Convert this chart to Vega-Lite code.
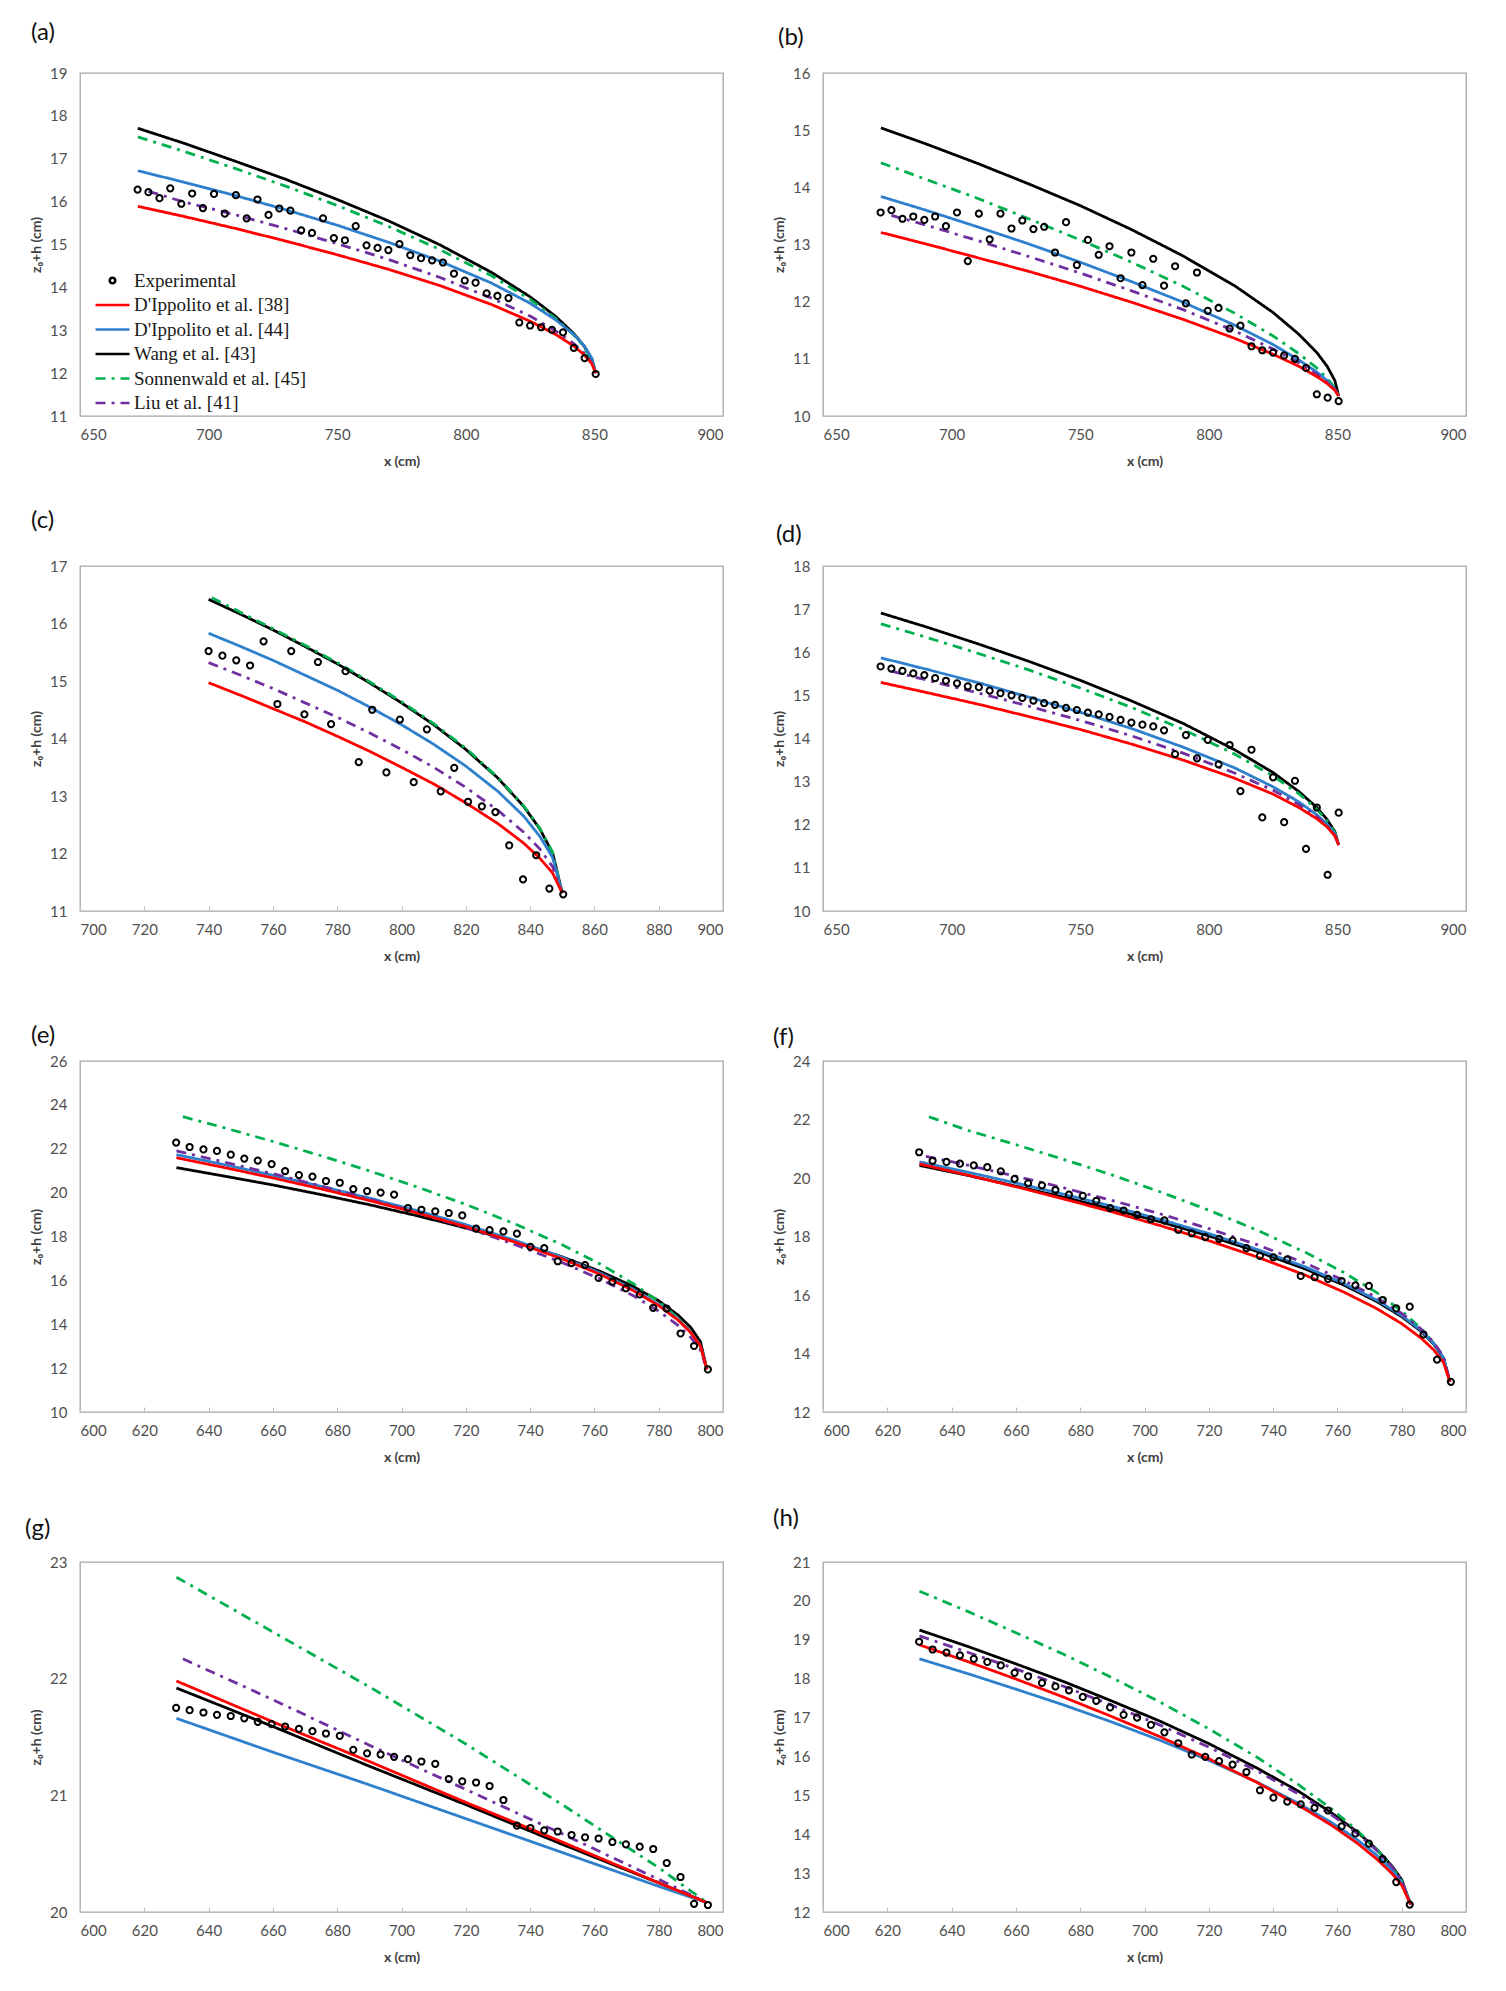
{
"$schema": "https://vega.github.io/schema/vega-lite/v6.json",
"background": "white",
"padding": {"left": 24, "top": 20, "right": 10, "bottom": 10},
"columns": 2,
"spacing": {"row": 150, "column": 100},
"bounds": "flush",
"resolve": {"scale": {"color": "independent", "strokeDash": "independent", "shape": "independent"}, "legend": {"color": "independent", "strokeDash": "independent", "shape": "independent"}},
"config": {
  "font": "Lato",
  "view": {"stroke": "#a6a6a6", "strokeWidth": 1.3},
  "axis": {"grid": false, "domain": false, "ticks": false, "format": "d", "labelOverlap": false, "labelBound": false, "labelFont": "Lato", "labelFontSize": 15, "labelColor": "#505050", "titleFont": "Lato", "titleFontSize": 14, "titleFontWeight": "bold", "titleColor": "#404040", "tickColor": "#bfbfbf", "tickWidth": 1},
  "axisX": {"labelPadding": 11, "titlePadding": 12},
  "axisY": {"labelPadding": 13, "titlePadding": 6},
  "title": {"font": "Lato", "fontSize": 24, "fontWeight": "normal", "anchor": "start", "color": "#111111", "baseline": "middle", "frame": "group"}
},
"datasets": {
"ca": [
{"s":"43","x":672.5,"y":17.71},{"s":"43","x":690,"y":17.37},{"s":"43","x":710,"y":16.95},{"s":"43","x":730,"y":16.52},{"s":"43","x":750,"y":16.05},{"s":"43","x":770,"y":15.55},{"s":"43","x":790,"y":14.99},{"s":"43","x":810,"y":14.35},{"s":"43","x":825,"y":13.78},{"s":"43","x":835,"y":13.32},{"s":"43","x":842,"y":12.92},{"s":"43","x":846,"y":12.63},{"s":"43","x":849,"y":12.32},{"s":"43","x":850.5,"y":12.0},
{"s":"45","x":672.5,"y":17.51},{"s":"45","x":690,"y":17.18},{"s":"45","x":710,"y":16.78},{"s":"45","x":730,"y":16.36},{"s":"45","x":750,"y":15.91},{"s":"45","x":770,"y":15.42},{"s":"45","x":790,"y":14.88},{"s":"45","x":810,"y":14.27},{"s":"45","x":825,"y":13.72},{"s":"45","x":835,"y":13.27},{"s":"45","x":842,"y":12.89},{"s":"45","x":846,"y":12.61},{"s":"45","x":849,"y":12.31},{"s":"45","x":850.5,"y":12.0},
{"s":"44","x":672.5,"y":16.72},{"s":"44","x":690,"y":16.46},{"s":"44","x":710,"y":16.15},{"s":"44","x":730,"y":15.81},{"s":"44","x":750,"y":15.45},{"s":"44","x":770,"y":15.05},{"s":"44","x":790,"y":14.61},{"s":"44","x":810,"y":14.10},{"s":"44","x":825,"y":13.63},{"s":"44","x":835,"y":13.24},{"s":"44","x":842,"y":12.90},{"s":"44","x":846,"y":12.64},{"s":"44","x":849,"y":12.35},{"s":"44","x":850.5,"y":12.0},
{"s":"41","x":676.6,"y":16.24},{"s":"41","x":690,"y":16.0},{"s":"41","x":710,"y":15.70},{"s":"41","x":730,"y":15.37},{"s":"41","x":750,"y":15.02},{"s":"41","x":770,"y":14.65},{"s":"41","x":790,"y":14.23},{"s":"41","x":810,"y":13.75},{"s":"41","x":825,"y":13.33},{"s":"41","x":835,"y":12.98},{"s":"41","x":842,"y":12.69},{"s":"41","x":846,"y":12.47},{"s":"41","x":849,"y":12.24},{"s":"41","x":850.5,"y":12.0},
{"s":"38","x":672.5,"y":15.89},{"s":"38","x":690,"y":15.66},{"s":"38","x":710,"y":15.38},{"s":"38","x":730,"y":15.08},{"s":"38","x":750,"y":14.76},{"s":"38","x":770,"y":14.42},{"s":"38","x":790,"y":14.04},{"s":"38","x":810,"y":13.60},{"s":"38","x":825,"y":13.21},{"s":"38","x":835,"y":12.90},{"s":"38","x":842,"y":12.63},{"s":"38","x":846,"y":12.43},{"s":"38","x":849,"y":12.22},{"s":"38","x":850.5,"y":12.0}
],
"ea": [
{"s":"exp","x":672.4,"y":16.28},{"s":"exp","x":676.6,"y":16.22},{"s":"exp","x":680.9,"y":16.08},{"s":"exp","x":685.1,"y":16.31},{"s":"exp","x":689.4,"y":15.95},{"s":"exp","x":693.6,"y":16.19},{"s":"exp","x":697.8,"y":15.85},{"s":"exp","x":702.1,"y":16.18},{"s":"exp","x":706.3,"y":15.72},{"s":"exp","x":710.6,"y":16.15},{"s":"exp","x":714.8,"y":15.61},{"s":"exp","x":719.0,"y":16.05},{"s":"exp","x":723.3,"y":15.69},{"s":"exp","x":727.5,"y":15.84},{"s":"exp","x":731.8,"y":15.79},{"s":"exp","x":736.0,"y":15.33},{"s":"exp","x":740.2,"y":15.27},{"s":"exp","x":744.5,"y":15.61},{"s":"exp","x":748.7,"y":15.15},{"s":"exp","x":753.0,"y":15.10},{"s":"exp","x":757.2,"y":15.43},{"s":"exp","x":761.4,"y":14.98},{"s":"exp","x":765.7,"y":14.92},{"s":"exp","x":769.9,"y":14.87},{"s":"exp","x":774.2,"y":15.01},{"s":"exp","x":778.4,"y":14.75},{"s":"exp","x":782.6,"y":14.68},{"s":"exp","x":786.9,"y":14.63},{"s":"exp","x":791.1,"y":14.58},{"s":"exp","x":795.4,"y":14.32},{"s":"exp","x":799.6,"y":14.16},{"s":"exp","x":803.8,"y":14.11},{"s":"exp","x":808.1,"y":13.86},{"s":"exp","x":812.3,"y":13.80},{"s":"exp","x":816.6,"y":13.75},{"s":"exp","x":820.8,"y":13.18},{"s":"exp","x":825.0,"y":13.11},{"s":"exp","x":829.3,"y":13.07},{"s":"exp","x":833.5,"y":13.01},{"s":"exp","x":837.8,"y":12.95},{"s":"exp","x":842.0,"y":12.59},{"s":"exp","x":846.2,"y":12.35},{"s":"exp","x":850.5,"y":11.98}
],
"cb": [
{"s":"43","x":672.5,"y":15.04},{"s":"43","x":690,"y":14.76},{"s":"43","x":710,"y":14.42},{"s":"43","x":730,"y":14.06},{"s":"43","x":750,"y":13.68},{"s":"43","x":770,"y":13.26},{"s":"43","x":790,"y":12.80},{"s":"43","x":810,"y":12.28},{"s":"43","x":825,"y":11.81},{"s":"43","x":835,"y":11.43},{"s":"43","x":842,"y":11.11},{"s":"43","x":846,"y":10.87},{"s":"43","x":849,"y":10.62},{"s":"43","x":850.5,"y":10.35},
{"s":"45","x":672.5,"y":14.43},{"s":"45","x":690,"y":14.14},{"s":"45","x":710,"y":13.81},{"s":"45","x":730,"y":13.45},{"s":"45","x":750,"y":13.08},{"s":"45","x":770,"y":12.69},{"s":"45","x":790,"y":12.27},{"s":"45","x":810,"y":11.80},{"s":"45","x":825,"y":11.40},{"s":"45","x":835,"y":11.09},{"s":"45","x":842,"y":10.84},{"s":"45","x":846,"y":10.66},{"s":"45","x":849,"y":10.49},{"s":"45","x":850.5,"y":10.35},
{"s":"44","x":672.5,"y":13.84},{"s":"44","x":690,"y":13.60},{"s":"44","x":710,"y":13.31},{"s":"44","x":730,"y":13.01},{"s":"44","x":750,"y":12.69},{"s":"44","x":770,"y":12.35},{"s":"44","x":790,"y":11.99},{"s":"44","x":810,"y":11.59},{"s":"44","x":825,"y":11.25},{"s":"44","x":835,"y":10.98},{"s":"44","x":842,"y":10.77},{"s":"44","x":846,"y":10.62},{"s":"44","x":849,"y":10.47},{"s":"44","x":850.5,"y":10.35},
{"s":"41","x":676.6,"y":13.51},{"s":"41","x":690,"y":13.34},{"s":"41","x":710,"y":13.07},{"s":"41","x":730,"y":12.79},{"s":"41","x":750,"y":12.50},{"s":"41","x":770,"y":12.19},{"s":"41","x":790,"y":11.86},{"s":"41","x":810,"y":11.49},{"s":"41","x":825,"y":11.17},{"s":"41","x":835,"y":10.93},{"s":"41","x":842,"y":10.73},{"s":"41","x":846,"y":10.59},{"s":"41","x":849,"y":10.46},{"s":"41","x":850.5,"y":10.35},
{"s":"38","x":672.5,"y":13.21},{"s":"38","x":690,"y":13.01},{"s":"38","x":710,"y":12.77},{"s":"38","x":730,"y":12.53},{"s":"38","x":750,"y":12.27},{"s":"38","x":770,"y":11.99},{"s":"38","x":790,"y":11.69},{"s":"38","x":810,"y":11.36},{"s":"38","x":825,"y":11.08},{"s":"38","x":835,"y":10.87},{"s":"38","x":842,"y":10.69},{"s":"38","x":846,"y":10.57},{"s":"38","x":849,"y":10.45},{"s":"38","x":850.5,"y":10.35}
],
"eb": [
{"x":672.4,"y":13.56},{"x":676.6,"y":13.60},{"x":680.9,"y":13.45},{"x":685.1,"y":13.49},{"x":689.4,"y":13.43},{"x":693.6,"y":13.49},{"x":697.8,"y":13.32},{"x":702.1,"y":13.56},{"x":706.3,"y":12.71},{"x":710.6,"y":13.54},{"x":714.8,"y":13.09},{"x":719.0,"y":13.54},{"x":723.3,"y":13.28},{"x":727.5,"y":13.42},{"x":731.8,"y":13.27},{"x":736.0,"y":13.31},{"x":740.2,"y":12.86},{"x":744.5,"y":13.39},{"x":748.7,"y":12.64},{"x":753.0,"y":13.08},{"x":757.2,"y":12.82},{"x":761.4,"y":12.97},{"x":765.7,"y":12.41},{"x":769.9,"y":12.86},{"x":774.2,"y":12.29},{"x":778.4,"y":12.75},{"x":782.6,"y":12.28},{"x":786.9,"y":12.62},{"x":791.1,"y":11.97},{"x":795.4,"y":12.51},{"x":799.6,"y":11.84},{"x":803.8,"y":11.89},{"x":808.1,"y":11.53},{"x":812.3,"y":11.58},{"x":816.6,"y":11.22},{"x":820.8,"y":11.15},{"x":825.0,"y":11.11},{"x":829.3,"y":11.06},{"x":833.5,"y":11.00},{"x":837.8,"y":10.84},{"x":842.0,"y":10.38},{"x":846.2,"y":10.32},{"x":850.5,"y":10.26}
],
"cc": [
{"s":"43","x":740,"y":16.42},{"s":"43","x":750,"y":16.16},{"s":"43","x":760,"y":15.89},{"s":"43","x":770,"y":15.60},{"s":"43","x":780,"y":15.30},{"s":"43","x":790,"y":14.97},{"s":"43","x":800,"y":14.62},{"s":"43","x":810,"y":14.24},{"s":"43","x":820,"y":13.81},{"s":"43","x":830,"y":13.31},{"s":"43","x":838,"y":12.82},{"s":"43","x":843,"y":12.43},{"s":"43","x":847,"y":12.01},{"s":"43","x":850,"y":11.31},
{"s":"45","x":741,"y":16.45},{"s":"45","x":750,"y":16.19},{"s":"45","x":760,"y":15.91},{"s":"45","x":770,"y":15.62},{"s":"45","x":780,"y":15.32},{"s":"45","x":790,"y":14.99},{"s":"45","x":800,"y":14.64},{"s":"45","x":810,"y":14.26},{"s":"45","x":820,"y":13.83},{"s":"45","x":830,"y":13.32},{"s":"45","x":838,"y":12.83},{"s":"45","x":843,"y":12.44},{"s":"45","x":847,"y":12.02},{"s":"45","x":850,"y":11.31},
{"s":"44","x":740,"y":15.83},{"s":"44","x":750,"y":15.60},{"s":"44","x":760,"y":15.36},{"s":"44","x":770,"y":15.10},{"s":"44","x":780,"y":14.84},{"s":"44","x":790,"y":14.55},{"s":"44","x":800,"y":14.24},{"s":"44","x":810,"y":13.90},{"s":"44","x":820,"y":13.52},{"s":"44","x":830,"y":13.08},{"s":"44","x":838,"y":12.65},{"s":"44","x":843,"y":12.30},{"s":"44","x":847,"y":11.93},{"s":"44","x":850,"y":11.31},
{"s":"41","x":740,"y":15.32},{"s":"41","x":750,"y":15.10},{"s":"41","x":760,"y":14.87},{"s":"41","x":770,"y":14.62},{"s":"41","x":780,"y":14.37},{"s":"41","x":790,"y":14.10},{"s":"41","x":800,"y":13.81},{"s":"41","x":810,"y":13.50},{"s":"41","x":820,"y":13.15},{"s":"41","x":830,"y":12.75},{"s":"41","x":838,"y":12.37},{"s":"41","x":843,"y":12.08},{"s":"41","x":847,"y":11.77},{"s":"41","x":850,"y":11.31},
{"s":"38","x":740,"y":14.97},{"s":"38","x":750,"y":14.75},{"s":"38","x":760,"y":14.52},{"s":"38","x":770,"y":14.29},{"s":"38","x":780,"y":14.04},{"s":"38","x":790,"y":13.78},{"s":"38","x":800,"y":13.50},{"s":"38","x":810,"y":13.21},{"s":"38","x":820,"y":12.88},{"s":"38","x":830,"y":12.52},{"s":"38","x":838,"y":12.18},{"s":"38","x":843,"y":11.92},{"s":"38","x":847,"y":11.66},{"s":"38","x":850,"y":11.31}
],
"ec": [
{"x":740.0,"y":15.52},{"x":744.3,"y":15.44},{"x":748.6,"y":15.36},{"x":752.9,"y":15.27},{"x":757.1,"y":15.69},{"x":761.4,"y":14.60},{"x":765.7,"y":15.52},{"x":769.8,"y":14.42},{"x":774.0,"y":15.33},{"x":778.1,"y":14.25},{"x":782.6,"y":15.17},{"x":786.7,"y":13.59},{"x":790.9,"y":14.50},{"x":795.3,"y":13.41},{"x":799.5,"y":14.33},{"x":803.8,"y":13.24},{"x":807.9,"y":14.16},{"x":812.2,"y":13.08},{"x":816.4,"y":13.49},{"x":820.7,"y":12.90},{"x":825.0,"y":12.82},{"x":829.2,"y":12.72},{"x":833.5,"y":12.14},{"x":837.8,"y":11.55},{"x":841.9,"y":11.97},{"x":846.0,"y":11.39},{"x":850.3,"y":11.29}
],
"cd": [
{"s":"43","x":672.5,"y":16.91},{"s":"43","x":690,"y":16.59},{"s":"43","x":710,"y":16.20},{"s":"43","x":730,"y":15.79},{"s":"43","x":750,"y":15.35},{"s":"43","x":770,"y":14.87},{"s":"43","x":790,"y":14.35},{"s":"43","x":810,"y":13.74},{"s":"43","x":825,"y":13.21},{"s":"43","x":835,"y":12.77},{"s":"43","x":842,"y":12.40},{"s":"43","x":846,"y":12.12},{"s":"43","x":849,"y":11.84},{"s":"43","x":850.5,"y":11.53},
{"s":"45","x":672.5,"y":16.66},{"s":"45","x":690,"y":16.35},{"s":"45","x":710,"y":15.98},{"s":"45","x":730,"y":15.59},{"s":"45","x":750,"y":15.17},{"s":"45","x":770,"y":14.72},{"s":"45","x":790,"y":14.21},{"s":"45","x":810,"y":13.64},{"s":"45","x":825,"y":13.13},{"s":"45","x":835,"y":12.72},{"s":"45","x":842,"y":12.36},{"s":"45","x":846,"y":12.09},{"s":"45","x":849,"y":11.82},{"s":"45","x":850.5,"y":11.53},
{"s":"44","x":672.5,"y":15.87},{"s":"44","x":690,"y":15.61},{"s":"44","x":710,"y":15.30},{"s":"44","x":730,"y":14.96},{"s":"44","x":750,"y":14.61},{"s":"44","x":770,"y":14.23},{"s":"44","x":790,"y":13.80},{"s":"44","x":810,"y":13.32},{"s":"44","x":825,"y":12.88},{"s":"44","x":835,"y":12.53},{"s":"44","x":842,"y":12.23},{"s":"44","x":846,"y":12.01},{"s":"44","x":849,"y":11.78},{"s":"44","x":850.5,"y":11.53},
{"s":"41","x":676.6,"y":15.56},{"s":"41","x":690,"y":15.36},{"s":"41","x":710,"y":15.06},{"s":"41","x":730,"y":14.75},{"s":"41","x":750,"y":14.42},{"s":"41","x":770,"y":14.06},{"s":"41","x":790,"y":13.66},{"s":"41","x":810,"y":13.20},{"s":"41","x":825,"y":12.80},{"s":"41","x":835,"y":12.47},{"s":"41","x":842,"y":12.19},{"s":"41","x":846,"y":11.98},{"s":"41","x":849,"y":11.76},{"s":"41","x":850.5,"y":11.53},
{"s":"38","x":672.5,"y":15.30},{"s":"38","x":690,"y":15.07},{"s":"38","x":710,"y":14.80},{"s":"38","x":730,"y":14.51},{"s":"38","x":750,"y":14.21},{"s":"38","x":770,"y":13.87},{"s":"38","x":790,"y":13.50},{"s":"38","x":810,"y":13.08},{"s":"38","x":825,"y":12.71},{"s":"38","x":835,"y":12.40},{"s":"38","x":842,"y":12.14},{"s":"38","x":846,"y":11.95},{"s":"38","x":849,"y":11.74},{"s":"38","x":850.5,"y":11.53}
],
"ed": [
{"x":672.4,"y":15.67},{"x":676.6,"y":15.62},{"x":680.9,"y":15.57},{"x":685.1,"y":15.51},{"x":689.4,"y":15.47},{"x":693.6,"y":15.40},{"x":697.8,"y":15.34},{"x":702.1,"y":15.28},{"x":706.3,"y":15.21},{"x":710.6,"y":15.19},{"x":714.8,"y":15.11},{"x":719.0,"y":15.05},{"x":723.3,"y":15.00},{"x":727.5,"y":14.94},{"x":731.8,"y":14.88},{"x":736.0,"y":14.82},{"x":740.2,"y":14.78},{"x":744.5,"y":14.71},{"x":748.7,"y":14.66},{"x":753.0,"y":14.60},{"x":757.2,"y":14.56},{"x":761.4,"y":14.50},{"x":765.7,"y":14.43},{"x":769.9,"y":14.37},{"x":774.2,"y":14.32},{"x":778.4,"y":14.28},{"x":782.6,"y":14.19},{"x":786.9,"y":13.64},{"x":791.1,"y":14.08},{"x":795.4,"y":13.54},{"x":799.6,"y":13.97},{"x":803.8,"y":13.40},{"x":808.1,"y":13.85},{"x":812.3,"y":12.78},{"x":816.6,"y":13.74},{"x":820.8,"y":12.17},{"x":825.0,"y":13.10},{"x":829.3,"y":12.06},{"x":833.5,"y":13.02},{"x":837.8,"y":11.44},{"x":842.0,"y":12.40},{"x":846.2,"y":10.84},{"x":850.5,"y":12.28}
],
"ce": [
{"s":"43","x":630,"y":21.14},{"s":"43","x":645,"y":20.75},{"s":"43","x":660,"y":20.35},{"s":"43","x":675,"y":19.91},{"s":"43","x":690,"y":19.45},{"s":"43","x":705,"y":18.94},{"s":"43","x":720,"y":18.39},{"s":"43","x":735,"y":17.78},{"s":"43","x":750,"y":17.07},{"s":"43","x":762,"y":16.40},{"s":"43","x":772,"y":15.73},{"s":"43","x":780,"y":15.07},{"s":"43","x":786,"y":14.42},{"s":"43","x":790,"y":13.85},{"s":"43","x":793,"y":13.20},{"s":"43","x":795,"y":11.94},
{"s":"45","x":632,"y":23.46},{"s":"45","x":645,"y":22.95},{"s":"45","x":660,"y":22.33},{"s":"45","x":675,"y":21.68},{"s":"45","x":690,"y":20.99},{"s":"45","x":705,"y":20.25},{"s":"45","x":720,"y":19.46},{"s":"45","x":735,"y":18.59},{"s":"45","x":750,"y":17.62},{"s":"45","x":762,"y":16.73},{"s":"45","x":772,"y":15.86},{"s":"45","x":780,"y":15.04},{"s":"45","x":786,"y":14.28},{"s":"45","x":790,"y":13.64},{"s":"45","x":793,"y":12.96},{"s":"45","x":795,"y":11.94},
{"s":"44","x":630,"y":21.73},{"s":"44","x":645,"y":21.27},{"s":"44","x":660,"y":20.79},{"s":"44","x":675,"y":20.29},{"s":"44","x":690,"y":19.75},{"s":"44","x":705,"y":19.17},{"s":"44","x":720,"y":18.54},{"s":"44","x":735,"y":17.84},{"s":"44","x":750,"y":17.05},{"s":"44","x":762,"y":16.32},{"s":"44","x":772,"y":15.60},{"s":"44","x":780,"y":14.89},{"s":"44","x":786,"y":14.23},{"s":"44","x":790,"y":13.64},{"s":"44","x":793,"y":13.02},{"s":"44","x":795,"y":11.94},
{"s":"41","x":630,"y":21.90},{"s":"41","x":645,"y":21.39},{"s":"41","x":660,"y":20.86},{"s":"41","x":675,"y":20.30},{"s":"41","x":690,"y":19.71},{"s":"41","x":705,"y":19.08},{"s":"41","x":720,"y":18.40},{"s":"41","x":735,"y":17.65},{"s":"41","x":750,"y":16.81},{"s":"41","x":762,"y":16.05},{"s":"41","x":772,"y":15.31},{"s":"41","x":780,"y":14.60},{"s":"41","x":786,"y":13.95},{"s":"41","x":790,"y":13.40},{"s":"41","x":793,"y":12.82},{"s":"41","x":795,"y":11.94},
{"s":"38","x":630,"y":21.59},{"s":"38","x":645,"y":21.14},{"s":"38","x":660,"y":20.67},{"s":"38","x":675,"y":20.17},{"s":"38","x":690,"y":19.64},{"s":"38","x":705,"y":19.07},{"s":"38","x":720,"y":18.45},{"s":"38","x":735,"y":17.76},{"s":"38","x":750,"y":16.98},{"s":"38","x":762,"y":16.26},{"s":"38","x":772,"y":15.54},{"s":"38","x":780,"y":14.85},{"s":"38","x":786,"y":14.19},{"s":"38","x":790,"y":13.62},{"s":"38","x":793,"y":13.00},{"s":"38","x":795,"y":11.94}
],
"ee": [
{"x":629.9,"y":22.28},{"x":634.1,"y":22.08},{"x":638.4,"y":21.97},{"x":642.6,"y":21.90},{"x":646.9,"y":21.73},{"x":651.1,"y":21.55},{"x":655.3,"y":21.46},{"x":659.6,"y":21.30},{"x":663.8,"y":20.98},{"x":668.1,"y":20.80},{"x":672.3,"y":20.73},{"x":676.5,"y":20.53},{"x":680.8,"y":20.45},{"x":685.0,"y":20.16},{"x":689.3,"y":20.07},{"x":693.5,"y":20.00},{"x":697.7,"y":19.91},{"x":702.0,"y":19.30},{"x":706.2,"y":19.22},{"x":710.5,"y":19.15},{"x":714.7,"y":19.07},{"x":718.9,"y":18.96},{"x":723.2,"y":18.36},{"x":727.4,"y":18.29},{"x":731.7,"y":18.23},{"x":735.9,"y":18.13},{"x":740.1,"y":17.53},{"x":744.4,"y":17.47},{"x":748.6,"y":16.87},{"x":752.9,"y":16.79},{"x":757.1,"y":16.70},{"x":761.3,"y":16.11},{"x":765.6,"y":15.94},{"x":769.8,"y":15.64},{"x":774.1,"y":15.36},{"x":778.3,"y":14.75},{"x":782.5,"y":14.71},{"x":786.8,"y":13.58},{"x":791.0,"y":13.01},{"x":795.3,"y":11.94}
],
"cf": [
{"s":"43","x":630,"y":20.43},{"s":"43","x":645,"y":20.09},{"s":"43","x":660,"y":19.72},{"s":"43","x":675,"y":19.34},{"s":"43","x":690,"y":18.93},{"s":"43","x":705,"y":18.50},{"s":"43","x":720,"y":18.02},{"s":"43","x":735,"y":17.49},{"s":"43","x":750,"y":16.89},{"s":"43","x":762,"y":16.34},{"s":"43","x":772,"y":15.79},{"s":"43","x":780,"y":15.26},{"s":"43","x":786,"y":14.76},{"s":"43","x":790,"y":14.32},{"s":"43","x":793,"y":13.84},{"s":"43","x":795,"y":13.03},
{"s":"45","x":633,"y":22.09},{"s":"45","x":645,"y":21.63},{"s":"45","x":660,"y":21.14},{"s":"45","x":675,"y":20.63},{"s":"45","x":690,"y":20.10},{"s":"45","x":705,"y":19.52},{"s":"45","x":720,"y":18.90},{"s":"45","x":735,"y":18.22},{"s":"45","x":750,"y":17.46},{"s":"45","x":762,"y":16.77},{"s":"45","x":772,"y":16.10},{"s":"45","x":780,"y":15.45},{"s":"45","x":786,"y":14.86},{"s":"45","x":790,"y":14.35},{"s":"45","x":793,"y":13.83},{"s":"45","x":795,"y":13.03},
{"s":"44","x":630,"y":20.55},{"s":"44","x":645,"y":20.20},{"s":"44","x":660,"y":19.83},{"s":"44","x":675,"y":19.44},{"s":"44","x":690,"y":19.03},{"s":"44","x":705,"y":18.58},{"s":"44","x":720,"y":18.10},{"s":"44","x":735,"y":17.56},{"s":"44","x":750,"y":16.96},{"s":"44","x":762,"y":16.39},{"s":"44","x":772,"y":15.84},{"s":"44","x":780,"y":15.30},{"s":"44","x":786,"y":14.79},{"s":"44","x":790,"y":14.34},{"s":"44","x":793,"y":13.86},{"s":"44","x":795,"y":13.03},
{"s":"41","x":632,"y":20.74},{"s":"41","x":645,"y":20.44},{"s":"41","x":660,"y":20.06},{"s":"41","x":675,"y":19.66},{"s":"41","x":690,"y":19.23},{"s":"41","x":705,"y":18.77},{"s":"41","x":720,"y":18.27},{"s":"41","x":735,"y":17.72},{"s":"41","x":750,"y":17.09},{"s":"41","x":762,"y":16.50},{"s":"41","x":772,"y":15.93},{"s":"41","x":780,"y":15.37},{"s":"41","x":786,"y":14.84},{"s":"41","x":790,"y":14.38},{"s":"41","x":793,"y":13.89},{"s":"41","x":795,"y":13.03},
{"s":"38","x":630,"y":20.48},{"s":"38","x":645,"y":20.10},{"s":"38","x":660,"y":19.70},{"s":"38","x":675,"y":19.28},{"s":"38","x":690,"y":18.84},{"s":"38","x":705,"y":18.37},{"s":"38","x":720,"y":17.86},{"s":"38","x":735,"y":17.30},{"s":"38","x":750,"y":16.68},{"s":"38","x":762,"y":16.10},{"s":"38","x":772,"y":15.55},{"s":"38","x":780,"y":15.02},{"s":"38","x":786,"y":14.53},{"s":"38","x":790,"y":14.12},{"s":"38","x":793,"y":13.69},{"s":"38","x":795,"y":13.03}
],
"ef": [
{"x":629.9,"y":20.88},{"x":634.1,"y":20.59},{"x":638.4,"y":20.55},{"x":642.6,"y":20.49},{"x":646.9,"y":20.43},{"x":651.1,"y":20.37},{"x":655.3,"y":20.23},{"x":659.6,"y":19.97},{"x":663.8,"y":19.82},{"x":668.1,"y":19.75},{"x":672.3,"y":19.59},{"x":676.5,"y":19.43},{"x":680.8,"y":19.39},{"x":685.0,"y":19.22},{"x":689.3,"y":18.97},{"x":693.5,"y":18.89},{"x":697.7,"y":18.74},{"x":702.0,"y":18.59},{"x":706.2,"y":18.55},{"x":710.5,"y":18.23},{"x":714.7,"y":18.11},{"x":718.9,"y":17.98},{"x":723.2,"y":17.92},{"x":727.4,"y":17.86},{"x":731.7,"y":17.60},{"x":735.9,"y":17.34},{"x":740.1,"y":17.29},{"x":744.4,"y":17.22},{"x":748.6,"y":16.65},{"x":752.9,"y":16.61},{"x":757.1,"y":16.55},{"x":761.3,"y":16.48},{"x":765.6,"y":16.33},{"x":769.8,"y":16.31},{"x":774.1,"y":15.83},{"x":778.3,"y":15.54},{"x":782.5,"y":15.60},{"x":786.8,"y":14.65},{"x":791.0,"y":13.79},{"x":795.3,"y":13.03}
],
"cg": [
{"s":"43","x":630,"y":21.92},{"s":"43","x":660,"y":21.59},{"s":"43","x":690,"y":21.25},{"s":"43","x":720,"y":20.92},{"s":"43","x":750,"y":20.58},{"s":"43","x":780,"y":20.25},{"s":"43","x":795,"y":20.08},
{"s":"45","x":630,"y":22.87},{"s":"45","x":660,"y":22.40},{"s":"45","x":690,"y":21.93},{"s":"45","x":720,"y":21.44},{"s":"45","x":750,"y":20.92},{"s":"45","x":780,"y":20.38},{"s":"45","x":795,"y":20.08},
{"s":"44","x":630,"y":21.66},{"s":"44","x":660,"y":21.37},{"s":"44","x":690,"y":21.09},{"s":"44","x":720,"y":20.80},{"s":"44","x":750,"y":20.51},{"s":"44","x":780,"y":20.22},{"s":"44","x":795,"y":20.08},
{"s":"41","x":632,"y":22.17},{"s":"41","x":660,"y":21.82},{"s":"41","x":690,"y":21.43},{"s":"41","x":720,"y":21.05},{"s":"41","x":750,"y":20.67},{"s":"41","x":780,"y":20.28},{"s":"41","x":795,"y":20.08},
{"s":"38","x":630,"y":21.98},{"s":"38","x":660,"y":21.63},{"s":"38","x":690,"y":21.29},{"s":"38","x":720,"y":20.94},{"s":"38","x":750,"y":20.60},{"s":"38","x":780,"y":20.25},{"s":"38","x":795,"y":20.08}
],
"eg": [
{"x":629.9,"y":21.75},{"x":634.1,"y":21.73},{"x":638.4,"y":21.71},{"x":642.6,"y":21.69},{"x":646.9,"y":21.68},{"x":651.1,"y":21.66},{"x":655.3,"y":21.63},{"x":659.6,"y":21.61},{"x":663.8,"y":21.59},{"x":668.1,"y":21.57},{"x":672.3,"y":21.55},{"x":676.5,"y":21.53},{"x":680.8,"y":21.51},{"x":685.0,"y":21.39},{"x":689.3,"y":21.36},{"x":693.5,"y":21.35},{"x":697.7,"y":21.33},{"x":702.0,"y":21.31},{"x":706.2,"y":21.29},{"x":710.5,"y":21.27},{"x":714.7,"y":21.14},{"x":718.9,"y":21.12},{"x":723.2,"y":21.11},{"x":727.4,"y":21.08},{"x":731.7,"y":20.96},{"x":735.9,"y":20.74},{"x":740.1,"y":20.72},{"x":744.4,"y":20.70},{"x":748.6,"y":20.69},{"x":752.9,"y":20.66},{"x":757.1,"y":20.64},{"x":761.3,"y":20.63},{"x":765.6,"y":20.60},{"x":769.8,"y":20.58},{"x":774.1,"y":20.56},{"x":778.3,"y":20.54},{"x":782.5,"y":20.42},{"x":786.8,"y":20.30},{"x":791.0,"y":20.07},{"x":795.3,"y":20.06}
],
"ch": [
{"s":"43","x":630,"y":19.25},{"s":"43","x":645,"y":18.83},{"s":"43","x":660,"y":18.38},{"s":"43","x":675,"y":17.92},{"s":"43","x":690,"y":17.42},{"s":"43","x":705,"y":16.90},{"s":"43","x":720,"y":16.33},{"s":"43","x":735,"y":15.70},{"s":"43","x":748,"y":15.10},{"s":"43","x":758,"y":14.56},{"s":"43","x":766,"y":14.07},{"s":"43","x":772,"y":13.63},{"s":"43","x":777,"y":13.18},{"s":"43","x":780,"y":12.83},{"s":"43","x":782.8,"y":12.19},
{"s":"45","x":630,"y":20.25},{"s":"45","x":645,"y":19.73},{"s":"45","x":660,"y":19.18},{"s":"45","x":675,"y":18.62},{"s":"45","x":690,"y":18.02},{"s":"45","x":705,"y":17.39},{"s":"45","x":720,"y":16.71},{"s":"45","x":735,"y":15.98},{"s":"45","x":748,"y":15.27},{"s":"45","x":758,"y":14.66},{"s":"45","x":766,"y":14.11},{"s":"45","x":772,"y":13.63},{"s":"45","x":777,"y":13.15},{"s":"45","x":780,"y":12.79},{"s":"45","x":782.8,"y":12.19},
{"s":"44","x":630,"y":18.51},{"s":"44","x":645,"y":18.13},{"s":"44","x":660,"y":17.73},{"s":"44","x":675,"y":17.32},{"s":"44","x":690,"y":16.88},{"s":"44","x":705,"y":16.41},{"s":"44","x":720,"y":15.90},{"s":"44","x":735,"y":15.34},{"s":"44","x":748,"y":14.79},{"s":"44","x":758,"y":14.31},{"s":"44","x":766,"y":13.87},{"s":"44","x":772,"y":13.48},{"s":"44","x":777,"y":13.08},{"s":"44","x":780,"y":12.76},{"s":"44","x":782.8,"y":12.19},
{"s":"41","x":630,"y":19.10},{"s":"41","x":645,"y":18.68},{"s":"41","x":660,"y":18.25},{"s":"41","x":675,"y":17.80},{"s":"41","x":690,"y":17.31},{"s":"41","x":705,"y":16.80},{"s":"41","x":720,"y":16.24},{"s":"41","x":735,"y":15.63},{"s":"41","x":748,"y":15.03},{"s":"41","x":758,"y":14.51},{"s":"41","x":766,"y":14.03},{"s":"41","x":772,"y":13.60},{"s":"41","x":777,"y":13.16},{"s":"41","x":780,"y":12.82},{"s":"41","x":782.8,"y":12.19},
{"s":"38","x":630,"y":18.87},{"s":"38","x":645,"y":18.44},{"s":"38","x":660,"y":17.99},{"s":"38","x":675,"y":17.52},{"s":"38","x":690,"y":17.02},{"s":"38","x":705,"y":16.50},{"s":"38","x":720,"y":15.94},{"s":"38","x":735,"y":15.33},{"s":"38","x":748,"y":14.74},{"s":"38","x":758,"y":14.24},{"s":"38","x":766,"y":13.78},{"s":"38","x":772,"y":13.38},{"s":"38","x":777,"y":12.99},{"s":"38","x":780,"y":12.69},{"s":"38","x":782.8,"y":12.19}
],
"eh": [
{"x":629.9,"y":18.95},{"x":634.1,"y":18.75},{"x":638.4,"y":18.67},{"x":642.6,"y":18.60},{"x":646.9,"y":18.51},{"x":651.1,"y":18.43},{"x":655.3,"y":18.34},{"x":659.6,"y":18.15},{"x":663.8,"y":18.06},{"x":668.1,"y":17.89},{"x":672.3,"y":17.80},{"x":676.5,"y":17.70},{"x":680.8,"y":17.53},{"x":685.0,"y":17.43},{"x":689.3,"y":17.26},{"x":693.5,"y":17.07},{"x":697.7,"y":17.00},{"x":702.0,"y":16.81},{"x":706.2,"y":16.62},{"x":710.5,"y":16.34},{"x":714.7,"y":16.05},{"x":718.9,"y":15.99},{"x":723.2,"y":15.88},{"x":727.4,"y":15.79},{"x":731.7,"y":15.60},{"x":735.9,"y":15.13},{"x":740.1,"y":14.94},{"x":744.4,"y":14.84},{"x":748.6,"y":14.77},{"x":752.9,"y":14.68},{"x":757.1,"y":14.61},{"x":761.3,"y":14.20},{"x":765.6,"y":14.02},{"x":769.8,"y":13.76},{"x":774.1,"y":13.36},{"x":778.3,"y":12.77},{"x":782.5,"y":12.19}
]
},
"concat": [
{
 "width": 643, "height": 343,
 "title": {"text": "(a)", "dx": -49, "offset": 21},
 "layer": [
  {"data": {"name": "ca"}, "mark": {"type": "line", "strokeWidth": 2.8},
   "encoding": {
    "x": {"field": "x", "type": "quantitative", "scale": {"domain": [650, 900], "nice": false, "zero": false}, "axis": {"values": [650, 700, 750, 800, 850, 900], "title": "x (cm)"}},
    "y": {"field": "y", "type": "quantitative", "scale": {"domain": [11, 19], "nice": false, "zero": false}, "axis": {"values": [11, 12, 13, 14, 15, 16, 17, 18, 19], "title": "z₀+h (cm)", "labelOverlap": false}},
    "color": {"field": "s", "type": "nominal", "scale": {"domain": ["exp", "38", "44", "43", "45", "41"], "range": ["#000000", "#ff0000", "#2f80cc", "#000000", "#00b050", "#7030a0"]},
      "legend": {"title": null, "orient": "none", "legendX": 23, "legendY": 198, "padding": 0, "symbolSize": 30, "labelFont": "Liberation Serif", "labelFontSize": 19, "labelColor": "#1a1a1a", "labelLimit": 400, "rowPadding": 4.5, "labelOffset": 12, "symbolStrokeWidth": 2.6, "labelExpr": "datum.value == 'exp' ? 'Experimental' : datum.value == '38' ? \"D'Ippolito et al. [38]\" : datum.value == '44' ? \"D'Ippolito et al. [44]\" : datum.value == '43' ? 'Wang et al. [43]' : datum.value == '45' ? 'Sonnenwald et al. [45]' : 'Liu et al. [41]'"}},
    "strokeDash": {"field": "s", "type": "nominal", "scale": {"domain": ["exp", "38", "44", "43", "45", "41"], "range": [[1, 0], [1, 0], [1, 0], [1, 0], [10, 6, 3, 6], [10, 6, 3, 6]]},
      "legend": {"title": null, "orient": "none", "legendX": 23, "legendY": 198, "padding": 0, "symbolSize": 30, "labelFont": "Liberation Serif", "labelFontSize": 19, "labelColor": "#1a1a1a", "labelLimit": 400, "rowPadding": 4.5, "labelOffset": 12, "symbolStrokeWidth": 2.6, "labelExpr": "datum.value == 'exp' ? 'Experimental' : datum.value == '38' ? \"D'Ippolito et al. [38]\" : datum.value == '44' ? \"D'Ippolito et al. [44]\" : datum.value == '43' ? 'Wang et al. [43]' : datum.value == '45' ? 'Sonnenwald et al. [45]' : 'Liu et al. [41]'"}}
   }},
  {"data": {"name": "ea"}, "mark": {"type": "point", "filled": false, "strokeWidth": 2, "opacity": 1, "size": 38},
   "encoding": {
    "x": {"field": "x", "type": "quantitative"},
    "y": {"field": "y", "type": "quantitative"},
    "color": {"field": "s", "type": "nominal", "scale": {"domain": ["exp", "38", "44", "43", "45", "41"], "range": ["#000000", "#ff0000", "#2f80cc", "#000000", "#00b050", "#7030a0"]},
      "legend": {"title": null, "orient": "none", "legendX": 23, "legendY": 198, "padding": 0, "symbolSize": 30, "labelFont": "Liberation Serif", "labelFontSize": 19, "labelColor": "#1a1a1a", "labelLimit": 400, "rowPadding": 4.5, "labelOffset": 12, "symbolStrokeWidth": 2.6, "labelExpr": "datum.value == 'exp' ? 'Experimental' : datum.value == '38' ? \"D'Ippolito et al. [38]\" : datum.value == '44' ? \"D'Ippolito et al. [44]\" : datum.value == '43' ? 'Wang et al. [43]' : datum.value == '45' ? 'Sonnenwald et al. [45]' : 'Liu et al. [41]'"}},
    "shape": {"field": "s", "type": "nominal", "scale": {"domain": ["exp", "38", "44", "43", "45", "41"], "range": ["circle", "M-6.2,0L6.2,0", "M-6.2,0L6.2,0", "M-6.2,0L6.2,0", "M-6.2,0L6.2,0", "M-6.2,0L6.2,0"]},
      "legend": {"title": null, "orient": "none", "legendX": 23, "legendY": 198, "padding": 0, "symbolSize": 30, "labelFont": "Liberation Serif", "labelFontSize": 19, "labelColor": "#1a1a1a", "labelLimit": 400, "rowPadding": 4.5, "labelOffset": 12, "symbolStrokeWidth": 2.6, "labelExpr": "datum.value == 'exp' ? 'Experimental' : datum.value == '38' ? \"D'Ippolito et al. [38]\" : datum.value == '44' ? \"D'Ippolito et al. [44]\" : datum.value == '43' ? 'Wang et al. [43]' : datum.value == '45' ? 'Sonnenwald et al. [45]' : 'Liu et al. [41]'"}}
   }}
 ]
},
{
 "width": 643, "height": 343,
 "title": {"text": "(b)", "dx": -45, "offset": 16},
 "layer": [
  {"data": {"name": "cb"}, "mark": {"type": "line", "strokeWidth": 2.8},
   "encoding": {
    "x": {"field": "x", "type": "quantitative", "scale": {"domain": [650, 900], "nice": false, "zero": false}, "axis": {"values": [650, 700, 750, 800, 850, 900], "title": "x (cm)"}},
    "y": {"field": "y", "type": "quantitative", "scale": {"domain": [10, 16], "nice": false, "zero": false}, "axis": {"values": [10, 11, 12, 13, 14, 15, 16], "title": "z₀+h (cm)", "labelOverlap": false}},
    "color": {"field": "s", "type": "nominal", "scale": {"domain": ["exp", "38", "44", "43", "45", "41"], "range": ["#000000", "#ff0000", "#2f80cc", "#000000", "#00b050", "#7030a0"]}, "legend": null},
    "strokeDash": {"field": "s", "type": "nominal", "scale": {"domain": ["exp", "38", "44", "43", "45", "41"], "range": [[1, 0], [1, 0], [1, 0], [1, 0], [10, 6, 3, 6], [10, 6, 3, 6]]}, "legend": null}
   }},
  {"data": {"name": "eb"}, "mark": {"type": "point", "filled": false, "strokeWidth": 2, "opacity": 1, "color": "#000000", "size": 38},
   "encoding": {"x": {"field": "x", "type": "quantitative"}, "y": {"field": "y", "type": "quantitative"}}}
 ]
},
{
 "width": 643, "height": 345,
 "title": {"text": "(c)", "dx": -49, "offset": 26},
 "layer": [
  {"data": {"name": "cc"}, "mark": {"type": "line", "strokeWidth": 2.8},
   "encoding": {
    "x": {"field": "x", "type": "quantitative", "scale": {"domain": [700, 900], "nice": false, "zero": false}, "axis": {"values": [700, 720, 740, 760, 780, 800, 820, 840, 860, 880, 900], "title": "x (cm)", "ticks": true, "tickSize": -5, "labelPadding": 16}},
    "y": {"field": "y", "type": "quantitative", "scale": {"domain": [11, 17], "nice": false, "zero": false}, "axis": {"values": [11, 12, 13, 14, 15, 16, 17], "title": "z₀+h (cm)", "labelOverlap": false}},
    "color": {"field": "s", "type": "nominal", "scale": {"domain": ["exp", "38", "44", "43", "45", "41"], "range": ["#000000", "#ff0000", "#2f80cc", "#000000", "#00b050", "#7030a0"]}, "legend": null},
    "strokeDash": {"field": "s", "type": "nominal", "scale": {"domain": ["exp", "38", "44", "43", "45", "41"], "range": [[1, 0], [1, 0], [1, 0], [1, 0], [10, 6, 3, 6], [10, 6, 3, 6]]}, "legend": null}
   }},
  {"data": {"name": "ec"}, "mark": {"type": "point", "filled": false, "strokeWidth": 2, "opacity": 1, "color": "#000000", "size": 38},
   "encoding": {"x": {"field": "x", "type": "quantitative"}, "y": {"field": "y", "type": "quantitative"}}}
 ]
},
{
 "width": 643, "height": 345,
 "title": {"text": "(d)", "dx": -47, "offset": 12},
 "layer": [
  {"data": {"name": "cd"}, "mark": {"type": "line", "strokeWidth": 2.8},
   "encoding": {
    "x": {"field": "x", "type": "quantitative", "scale": {"domain": [650, 900], "nice": false, "zero": false}, "axis": {"values": [650, 700, 750, 800, 850, 900], "title": "x (cm)"}},
    "y": {"field": "y", "type": "quantitative", "scale": {"domain": [10, 18], "nice": false, "zero": false}, "axis": {"values": [10, 11, 12, 13, 14, 15, 16, 17, 18], "title": "z₀+h (cm)", "labelOverlap": false}},
    "color": {"field": "s", "type": "nominal", "scale": {"domain": ["exp", "38", "44", "43", "45", "41"], "range": ["#000000", "#ff0000", "#2f80cc", "#000000", "#00b050", "#7030a0"]}, "legend": null},
    "strokeDash": {"field": "s", "type": "nominal", "scale": {"domain": ["exp", "38", "44", "43", "45", "41"], "range": [[1, 0], [1, 0], [1, 0], [1, 0], [10, 6, 3, 6], [10, 6, 3, 6]]}, "legend": null}
   }},
  {"data": {"name": "ed"}, "mark": {"type": "point", "filled": false, "strokeWidth": 2, "opacity": 1, "color": "#000000", "size": 38},
   "encoding": {"x": {"field": "x", "type": "quantitative"}, "y": {"field": "y", "type": "quantitative"}}}
 ]
},
{
 "width": 643, "height": 351,
 "title": {"text": "(e)", "dx": -49, "offset": 6},
 "layer": [
  {"data": {"name": "ce"}, "mark": {"type": "line", "strokeWidth": 2.8},
   "encoding": {
    "x": {"field": "x", "type": "quantitative", "scale": {"domain": [600, 800], "nice": false, "zero": false}, "axis": {"values": [600, 620, 640, 660, 680, 700, 720, 740, 760, 780, 800], "title": "x (cm)", "ticks": true, "tickSize": -5, "labelPadding": 16}},
    "y": {"field": "y", "type": "quantitative", "scale": {"domain": [10, 26], "nice": false, "zero": false}, "axis": {"values": [10, 12, 14, 16, 18, 20, 22, 24, 26], "title": "z₀+h (cm)", "labelOverlap": false}},
    "color": {"field": "s", "type": "nominal", "scale": {"domain": ["exp", "38", "44", "43", "45", "41"], "range": ["#000000", "#ff0000", "#2f80cc", "#000000", "#00b050", "#7030a0"]}, "legend": null},
    "strokeDash": {"field": "s", "type": "nominal", "scale": {"domain": ["exp", "38", "44", "43", "45", "41"], "range": [[1, 0], [1, 0], [1, 0], [1, 0], [10, 6, 3, 6], [10, 6, 3, 6]]}, "legend": null}
   }},
  {"data": {"name": "ee"}, "mark": {"type": "point", "filled": false, "strokeWidth": 2, "opacity": 1, "color": "#000000", "size": 38},
   "encoding": {"x": {"field": "x", "type": "quantitative"}, "y": {"field": "y", "type": "quantitative"}}}
 ]
},
{
 "width": 643, "height": 351,
 "title": {"text": "(f)", "dx": -50, "offset": 4},
 "layer": [
  {"data": {"name": "cf"}, "mark": {"type": "line", "strokeWidth": 2.8},
   "encoding": {
    "x": {"field": "x", "type": "quantitative", "scale": {"domain": [600, 800], "nice": false, "zero": false}, "axis": {"values": [600, 620, 640, 660, 680, 700, 720, 740, 760, 780, 800], "title": "x (cm)", "ticks": true, "tickSize": -5, "labelPadding": 16}},
    "y": {"field": "y", "type": "quantitative", "scale": {"domain": [12, 24], "nice": false, "zero": false}, "axis": {"values": [12, 14, 16, 18, 20, 22, 24], "title": "z₀+h (cm)", "labelOverlap": false}},
    "color": {"field": "s", "type": "nominal", "scale": {"domain": ["exp", "38", "44", "43", "45", "41"], "range": ["#000000", "#ff0000", "#2f80cc", "#000000", "#00b050", "#7030a0"]}, "legend": null},
    "strokeDash": {"field": "s", "type": "nominal", "scale": {"domain": ["exp", "38", "44", "43", "45", "41"], "range": [[1, 0], [1, 0], [1, 0], [1, 0], [10, 6, 3, 6], [10, 6, 3, 6]]}, "legend": null}
   }},
  {"data": {"name": "ef"}, "mark": {"type": "point", "filled": false, "strokeWidth": 2, "opacity": 1, "color": "#000000", "size": 38},
   "encoding": {"x": {"field": "x", "type": "quantitative"}, "y": {"field": "y", "type": "quantitative"}}}
 ]
},
{
 "width": 643, "height": 350,
 "title": {"text": "(g)", "dx": -55, "offset": 14},
 "layer": [
  {"data": {"name": "cg"}, "mark": {"type": "line", "strokeWidth": 2.8},
   "encoding": {
    "x": {"field": "x", "type": "quantitative", "scale": {"domain": [600, 800], "nice": false, "zero": false}, "axis": {"values": [600, 620, 640, 660, 680, 700, 720, 740, 760, 780, 800], "title": "x (cm)", "ticks": true, "tickSize": -5, "labelPadding": 16}},
    "y": {"field": "y", "type": "quantitative", "scale": {"domain": [20, 23], "nice": false, "zero": false}, "axis": {"values": [20, 21, 22, 23], "title": "z₀+h (cm)", "labelOverlap": false}},
    "color": {"field": "s", "type": "nominal", "scale": {"domain": ["exp", "38", "44", "43", "45", "41"], "range": ["#000000", "#ff0000", "#2f80cc", "#000000", "#00b050", "#7030a0"]}, "legend": null},
    "strokeDash": {"field": "s", "type": "nominal", "scale": {"domain": ["exp", "38", "44", "43", "45", "41"], "range": [[1, 0], [1, 0], [1, 0], [1, 0], [10, 6, 3, 6], [10, 6, 3, 6]]}, "legend": null}
   }},
  {"data": {"name": "eg"}, "mark": {"type": "point", "filled": false, "strokeWidth": 2, "opacity": 1, "color": "#000000", "size": 38},
   "encoding": {"x": {"field": "x", "type": "quantitative"}, "y": {"field": "y", "type": "quantitative"}}}
 ]
},
{
 "width": 643, "height": 350,
 "title": {"text": "(h)", "dx": -50, "offset": 24},
 "layer": [
  {"data": {"name": "ch"}, "mark": {"type": "line", "strokeWidth": 2.8},
   "encoding": {
    "x": {"field": "x", "type": "quantitative", "scale": {"domain": [600, 800], "nice": false, "zero": false}, "axis": {"values": [600, 620, 640, 660, 680, 700, 720, 740, 760, 780, 800], "title": "x (cm)", "ticks": true, "tickSize": -5, "labelPadding": 16}},
    "y": {"field": "y", "type": "quantitative", "scale": {"domain": [12, 21], "nice": false, "zero": false}, "axis": {"values": [12, 13, 14, 15, 16, 17, 18, 19, 20, 21], "tickCount": 10, "title": "z₀+h (cm)", "labelOverlap": false}},
    "color": {"field": "s", "type": "nominal", "scale": {"domain": ["exp", "38", "44", "43", "45", "41"], "range": ["#000000", "#ff0000", "#2f80cc", "#000000", "#00b050", "#7030a0"]}, "legend": null},
    "strokeDash": {"field": "s", "type": "nominal", "scale": {"domain": ["exp", "38", "44", "43", "45", "41"], "range": [[1, 0], [1, 0], [1, 0], [1, 0], [10, 6, 3, 6], [10, 6, 3, 6]]}, "legend": null}
   }},
  {"data": {"name": "eh"}, "mark": {"type": "point", "filled": false, "strokeWidth": 2, "opacity": 1, "color": "#000000", "size": 38},
   "encoding": {"x": {"field": "x", "type": "quantitative"}, "y": {"field": "y", "type": "quantitative"}}}
 ]
}
]
}
